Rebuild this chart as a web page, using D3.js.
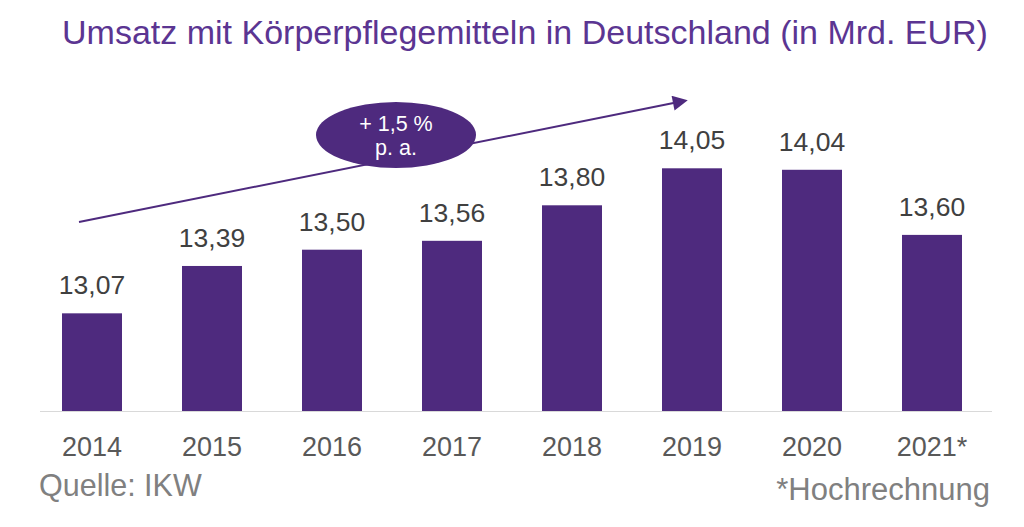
<!DOCTYPE html>
<html><head><meta charset="utf-8">
<script src="https://cdn.jsdelivr.net/npm/d3@7"></script>
<style>body{margin:0;background:#fff}svg{display:block;font-family:"Liberation Sans",Arial,sans-serif}</style>
</head><body><svg id="c" width="1024" height="527"></svg>
<script>
const years = ["2014","2015","2016","2017","2018","2019","2020","2021*"];
const values = [13.07,13.39,13.50,13.56,13.80,14.05,14.04,13.60];
const title = "Umsatz mit Körperpflegemitteln in Deutschland (in Mrd. EUR)";
const growthLabel = ["+ 1,5 %","p. a."];
const source = "Quelle: IKW";
const note = "*Hochrechnung";

const svg = d3.select("#c");
const purple = "#4e2a7e";
const x = d3.scaleBand().domain(years).range([32,992]).paddingInner(0.5).paddingOuter(0.25);
const y = d3.scaleLinear().domain([12.41,14.05]).range([411,168.3]);

svg.append("text").attr("x",525).attr("y",43.5).attr("text-anchor","middle")
  .attr("font-size",34).attr("fill","#5b3592").text(title);

svg.selectAll("rect.bar").data(values).join("rect").attr("class","bar")
  .attr("x",(d,i)=>x(years[i])).attr("width",x.bandwidth())
  .attr("y",d=>y(d)).attr("height",d=>y.range()[0]-y(d)).attr("fill",purple);

svg.selectAll("text.val").data(values).join("text").attr("class","val")
  .attr("x",(d,i)=>x(years[i])+x.bandwidth()/2).attr("y",d=>y(d)-19)
  .attr("text-anchor","middle").attr("font-size",26.5).attr("fill","#404040")
  .text(d=>d.toFixed(2).replace(".",","));

const ax = svg.append("g").attr("transform","translate(0,411)")
  .call(d3.axisBottom(x).tickSize(0).tickPadding(25.5));
ax.select(".domain").attr("stroke","#d9d9d9").attr("d","M40,0.5H992");
ax.selectAll("text").attr("font-size",27).attr("fill","#595959")
  .attr("font-family","'Liberation Sans',Arial,sans-serif");

// trend arrow
svg.append("defs").append("marker").attr("id","ah").attr("viewBox","0 0 10 10")
  .attr("refX",2).attr("refY",5).attr("markerWidth",20).attr("markerHeight",15)
  .attr("markerUnits","userSpaceOnUse").attr("orient","auto")
  .append("path").attr("d","M0,0L10,5L0,10z").attr("fill",purple);
svg.append("line").attr("x1",79).attr("y1",222).attr("x2",676).attr("y2",102.6)
  .attr("stroke",purple).attr("stroke-width",2).attr("marker-end","url(#ah)");

svg.append("ellipse").attr("cx",396).attr("cy",135).attr("rx",80).attr("ry",33).attr("fill",purple);
svg.selectAll("text.g").data(growthLabel).join("text").attr("class","g")
  .attr("x",396).attr("y",(d,i)=>130.5+i*24.5).attr("text-anchor","middle")
  .attr("font-size",21.5).attr("fill","#fff").text(d=>d);

svg.append("text").attr("x",39).attr("y",496).attr("font-size",30.5).attr("fill","#808080").text(source);
svg.append("text").attr("x",990).attr("y",500).attr("text-anchor","end").attr("font-size",31).attr("fill","#808080").text(note);
</script></body></html>
